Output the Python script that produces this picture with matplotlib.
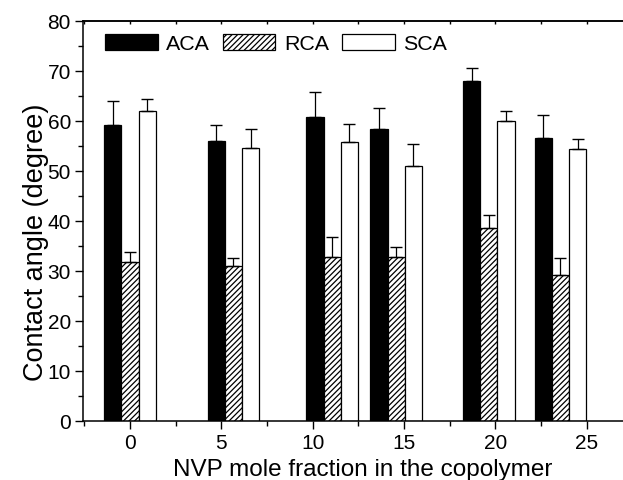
import numpy as np
import matplotlib.pyplot as plt
from matplotlib.ticker import MultipleLocator

plt.rcParams['font.family'] = ['Liberation Sans', 'DejaVu Sans']
plt.rcParams['hatch.linewidth'] = 0.9

# data
nvp = [0, 5.66, 11.07, 14.57, 19.65, 23.56]
aca = [59.2, 55.9, 60.7, 58.3, 67.9, 56.5]
aca_err = [4.7, 3.2, 5.0, 4.2, 2.6, 4.7]
rca = [31.8, 30.9, 32.8, 32.8, 38.6, 29.1]
rca_err = [2.0, 1.7, 4.0, 2.0, 2.6, 3.5]
sca = [61.9, 54.5, 55.7, 50.9, 59.9, 54.3]
sca_err = [2.4, 3.9, 3.7, 4.4, 2.1, 2.0]

x = np.array(nvp)
w = 0.94

fig = plt.figure(figsize=(6.23, 4.81), dpi=100)
ax = fig.add_axes([0.134, 0.1227, 0.8956, 0.8322])

ekw = dict(ecolor='black', elinewidth=0.9, capsize=4.3, capthick=1.0)
zeros = np.zeros(len(x))
ax.bar(x - w, aca, w, color='black', edgecolor='black', linewidth=0.9,
       yerr=[zeros, aca_err], error_kw=ekw, label='ACA')
ax.bar(x, rca, w, color='white', edgecolor='black', linewidth=0.9, hatch='//////',
       yerr=[zeros, rca_err], error_kw=ekw, label='RCA')
ax.bar(x + w, sca, w, color='white', edgecolor='black', linewidth=0.9,
       yerr=[zeros, sca_err], error_kw=ekw, label='SCA')

ax.set_xlim(-2.545, 28)
ax.set_ylim(0, 80)
ax.xaxis.set_major_locator(MultipleLocator(5))
ax.xaxis.set_minor_locator(MultipleLocator(2.5))
ax.yaxis.set_major_locator(MultipleLocator(10))
ax.yaxis.set_minor_locator(MultipleLocator(5))
ax.tick_params(which='major', direction='out', length=6, width=1.0, labelsize=15, pad=3)
ax.tick_params(which='minor', direction='out', length=3.5, width=1.0)
ax.spines['right'].set_visible(False)
for s in ['left', 'bottom', 'top']:
    ax.spines[s].set_linewidth(1.1)

# top axis: inward ticks, no labels
top = ax.secondary_xaxis('top')
top.xaxis.set_major_locator(MultipleLocator(5))
top.xaxis.set_minor_locator(MultipleLocator(2.5))
top.tick_params(which='both', direction='in', length=2.5, width=1.0, labeltop=False)
top.spines['top'].set_linewidth(1.1)

ax.set_xlabel('NVP mole fraction in the copolymer', fontsize=17.5, labelpad=4)
ax.set_ylabel('Contact angle (degree)', fontsize=19.5)
ax.yaxis.set_label_coords(-0.062, 0.45)

ax.legend(loc='upper left', bbox_to_anchor=(105 / 623, 1 - 35 / 481),
          bbox_transform=fig.transFigure, ncol=3, frameon=False,
          fontsize=15.4, borderpad=0, borderaxespad=0,
          handlelength=2.46, handleheight=0.78, handletextpad=0.39,
          columnspacing=0.61)

fig.savefig('out.png', dpi=100)
